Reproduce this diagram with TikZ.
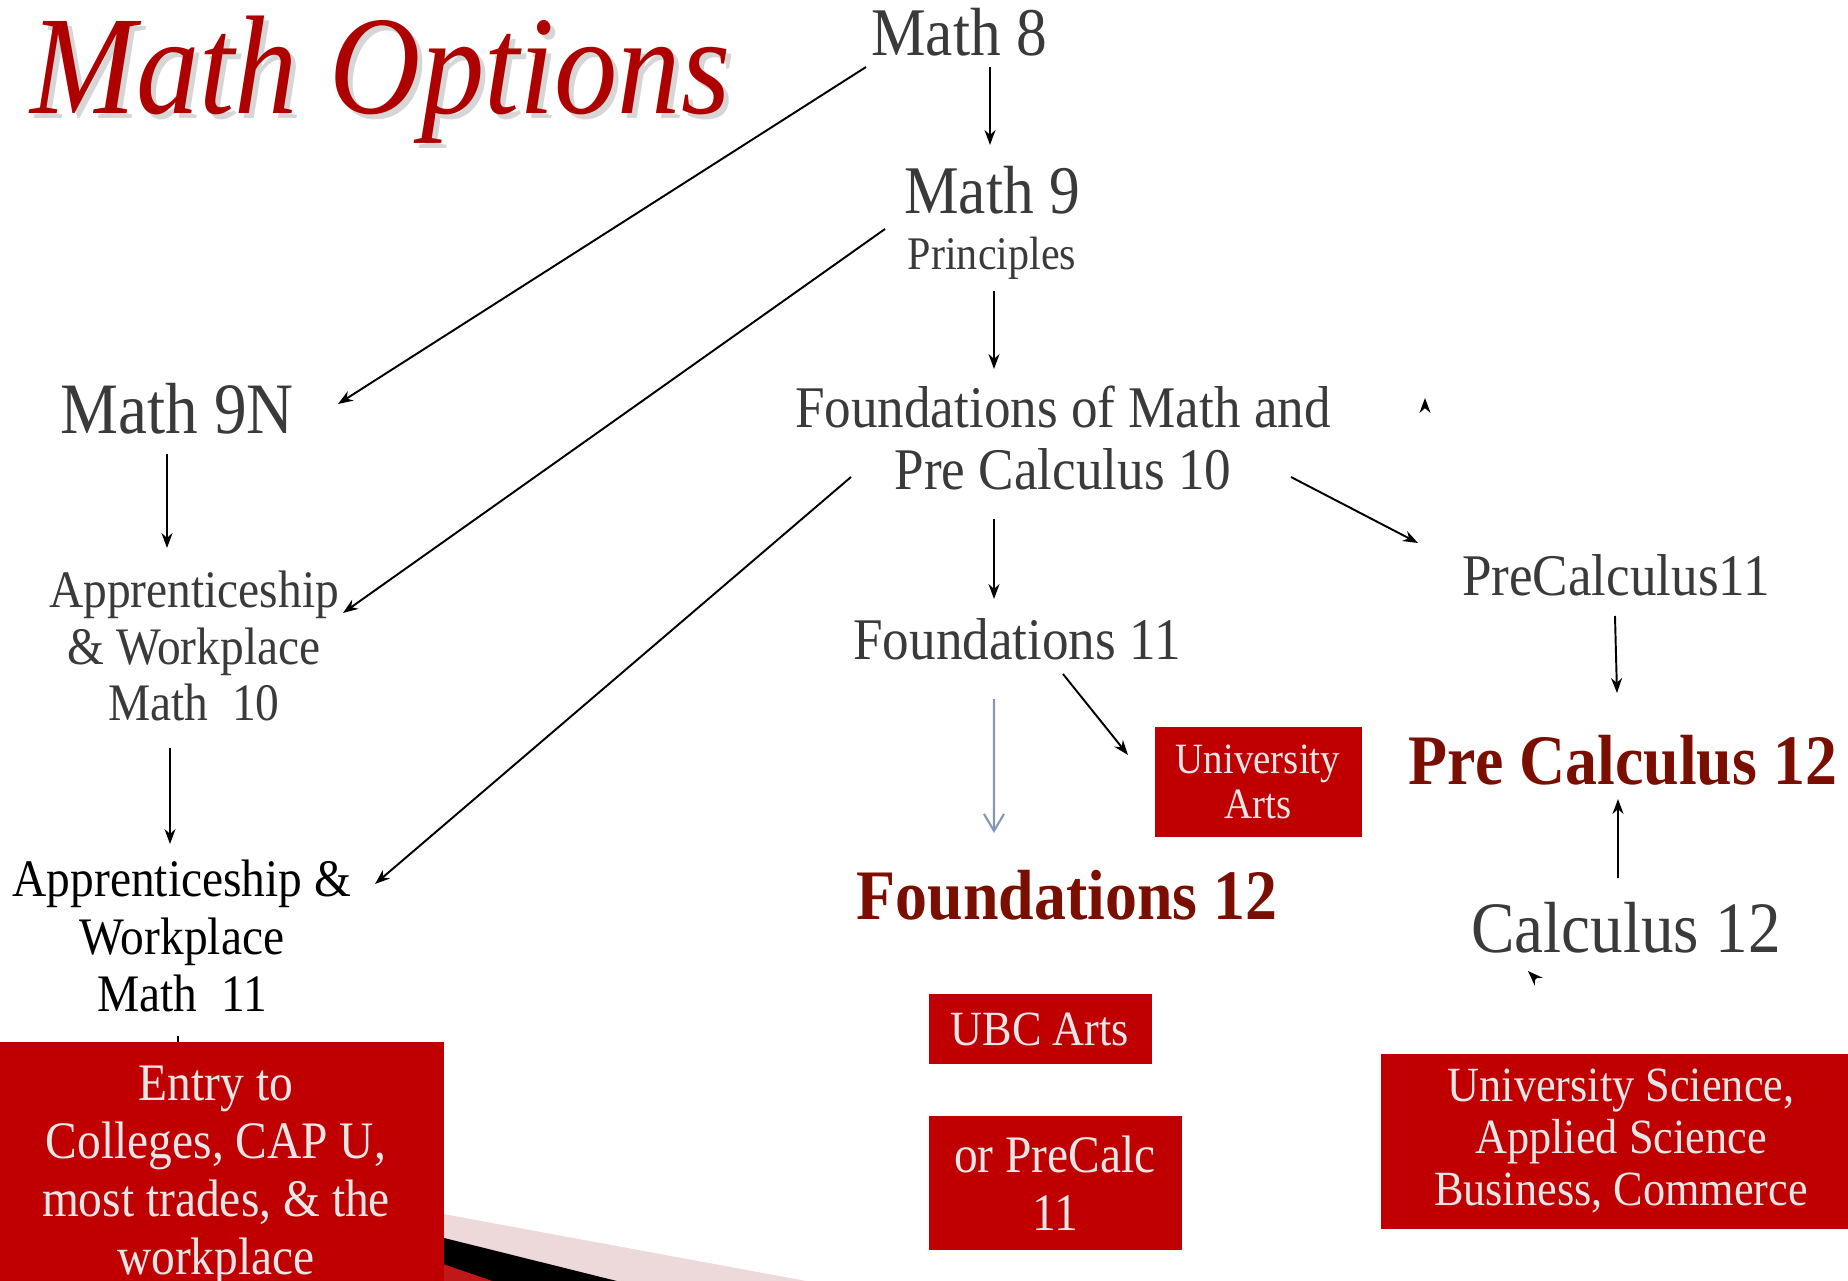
\documentclass[tikz,border=0pt]{standalone}
\usepackage{fontspec}
\setmainfont{Liberation Serif}[FakeStretch=0.9]
\usetikzlibrary{positioning, arrows.meta, backgrounds}
\definecolor{labelgray}{HTML}{3A3A3A}
\definecolor{headred}{HTML}{7A0E00}
\definecolor{titlered}{HTML}{AF0000}
\definecolor{shadowgray}{HTML}{D6D6D6}
\definecolor{boxred}{HTML}{C00000}
\definecolor{boxtext}{HTML}{E6E6E6}
\definecolor{arrowblue}{HTML}{8496B8}
\definecolor{bandpink}{HTML}{EDD9D9}
\definecolor{bandred}{HTML}{C01818}
\tikzstyle{lbl} = [inner sep=0pt, align=center, text=labelgray]
\tikzstyle{hd} = [inner sep=0pt, align=center, text=headred]
\tikzstyle{redbox} = [fill=boxred, text=boxtext, align=center, inner sep=0pt]

\begin{document}
\begin{tikzpicture}[x=0.1mm, y=-0.1mm, on grid, line width=0.55pt,
    >={Stealth[length=1.5mm, width=1.1mm]}]

    \useasboundingbox (0,0) rectangle (1848,1280);

    \node[inner sep=0pt, anchor=base west, text=shadowgray, font=\fontsize{40}{44}\selectfont\itshape] (tsh) at (35,118) {Math Options};
    \node[inner sep=0pt, anchor=base west, text=titlered, font=\fontsize{40}{44}\selectfont\itshape] (title) at (30,113) {Math Options};

    \node[lbl, font=\fontsize{19.4}{22}\selectfont] (m8) at (959,32) {Math 8};
    \node[lbl, font=\fontsize{19.4}{22}\selectfont, below right=15.8mm and 3.3mm of m8] (m9) {Math 9};
    \node[lbl, font=\fontsize{13.3}{15}\selectfont, below=6.8mm of m9] (pr) {Principles};
    \node[lbl, font=\fontsize{16.8}{17.9}\selectfont, below right=18mm and 7.1mm of pr] (f10) {Foundations of Math and\\Pre Calculus 10};
    \node[lbl, font=\fontsize{16.8}{20}\selectfont, below left=20.1mm and 4.6mm of f10] (f11) {Foundations 11};
    \node[hd, font=\fontsize{20.2}{22}\selectfont\bfseries, below right=25.6mm and 5mm of f11] (f12) {Foundations 12};
    \node[redbox, font=\fontsize{12.3}{12.8}\selectfont, minimum width=20.7mm, minimum height=11mm, below right=14.3mm and 24.1mm of f11] (uarts) {University\\Arts};
    \node[redbox, font=\fontsize{14}{16.5}\selectfont, minimum width=22.3mm, minimum height=7mm, below left=13.4mm and 2.7mm of f12] (ubc) {UBC Arts};
    \node[redbox, font=\fontsize{15}{16.5}\selectfont, minimum width=25.3mm, minimum height=13.4mm, below right=15.4mm and 1.5mm of ubc] (orpc) {or PreCalc\\11};

    \node[lbl, font=\fontsize{16.8}{20}\selectfont, below right=13.7mm and 55.3mm of f10] (pc11) {PreCalculus11};
    \node[hd, font=\fontsize{20.2}{22}\selectfont\bfseries, below right=18.5mm and 0.7mm of pc11] (pc12) {Pre Calculus 12};
    \node[lbl, font=\fontsize{20.6}{22}\selectfont, below right=16.8mm and 0.3mm of pc12] (c12) {Calculus 12};
    \node[redbox, font=\fontsize{14}{14.8}\selectfont, minimum width=48mm, minimum height=17.5mm, below left=21.3mm and 0.5mm of c12] (usci) {University Science,\\Applied Science\\Business, Commerce};

    \node[lbl, font=\fontsize{20.6}{22}\selectfont, below left=21.9mm and 81.5mm of m9] (m9n) {Math 9N};
    \node[lbl, font=\fontsize{15}{16.2}\selectfont, below right=23.7mm and 1.7mm of m9n] (aw10) {Apprenticeship\\\& Workplace\\Math~~10};
    \node[lbl, text=black, font=\fontsize{15}{16.3}\selectfont, below left=29mm and 1.2mm of aw10] (aw11) {Apprenticeship \&\\Workplace\\Math~~11};
    \node[redbox, font=\fontsize{15}{16.5}\selectfont, minimum width=45.6mm, minimum height=26.8mm, below right=24mm and 3.4mm of aw11] (entry) {Entry to\\Colleges, CAP U,\\most trades, \& the\\workplace};

    \path[->]
        ([shift={(31,35)}]m8.center) edge ([shift={(-2,-45)}]m9.center)
        ([shift={(-93,35)}]m8.center) edge ([shift={(161,-5)}]m9n.center)
        ([shift={(2,33)}]pr.center) edge ([shift={(-69,-69)}]f10.center)
        ([shift={(-107,39)}]m9.center) edge ([shift={(149,-33)}]aw10.center)
        ([shift={(-212,39)}]f10.center) edge ([shift={(193,-52)}]aw11.center)
        ([shift={(-10,45)}]m9n.center) edge ([shift={(-27,-98)}]aw10.center)
        ([shift={(-24,102)}]aw10.center) edge ([shift={(-12,-92)}]aw11.center)
        ([shift={(-69,81)}]f10.center) edge ([shift={(-23,-40)}]f11.center)
        ([shift={(228,39)}]f10.center) edge ([shift={(-198,-32)}]pc11.center)
        ([shift={(46,35)}]f11.center) edge ([shift={(-130,-27)}]uarts.center)
        ([shift={(-1,41)}]pc11.center) edge ([shift={(-6,-67)}]pc12.center)
        ([shift={(-8,-50)}]c12.center) edge ([shift={(-5,39)}]pc12.center)
        ([shift={(-191,-169)}]pc11.center) edge ([shift={(-191,-177)}]pc11.center)
        ([shift={(-90,51)}]c12.center) edge ([shift={(-98,43)}]c12.center)
    ;
    \draw[arrowblue, line width=0.6pt, -{Straight Barb[length=1.7mm, width=2mm]}]
        ([shift={(-23,60)}]f11.center) -- ([shift={(-73,-62)}]f12.center);

    \begin{scope}[on background layer]
        \fill[bandpink] (400,1206) -- (855,1290) -- (400,1290) -- cycle;
        \fill[black] (400,1227) -- (653,1290) -- (400,1290) -- cycle;
        \fill[bandred] (400,1249) -- (518,1290) -- (400,1290) -- cycle;
        \draw[->] ([shift={(-4,100)}]aw11.center) -- ([shift={(-4,160)}]aw11.center);
    \end{scope}

\end{tikzpicture}
\end{document}
